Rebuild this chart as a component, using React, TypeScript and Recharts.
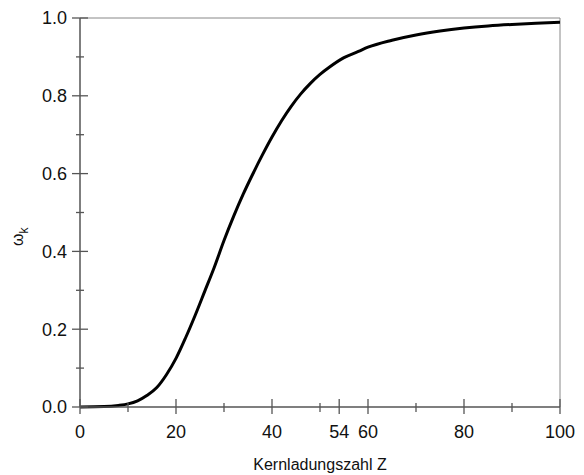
import * as React from 'react';
import { LineChart, Line, XAxis, YAxis, ReferenceLine } from 'recharts';

// Kernladungszahl Z
const zValues = [0, 5, 8, 10, 12, 14, 16, 18, 20, 22, 24, 26, 28, 30, 32, 34, 36, 38, 40, 42, 44, 46, 48, 50, 52, 55, 58, 60, 65, 70, 75, 80, 85, 90, 95, 100];
// Fluoreszenzausbeute omega_k
const omegaK = [0, 0.001, 0.004, 0.008, 0.016, 0.03, 0.05, 0.083, 0.125, 0.178, 0.236, 0.298, 0.36, 0.428, 0.49, 0.547, 0.599, 0.648, 0.694, 0.736, 0.773, 0.805, 0.832, 0.855, 0.874, 0.898, 0.914, 0.925, 0.943, 0.9565, 0.9665, 0.974, 0.9795, 0.9835, 0.9865, 0.989];

const xTicks = [0, 10, 20, 30, 40, 50, 54, 60, 70, 80, 90, 100];
const xMajor = [0, 20, 40, 54, 60, 80, 100];
const yTicks = [0, 0.1, 0.2, 0.3, 0.4, 0.5, 0.6, 0.7, 0.8, 0.9, 1.0];
const yMajor = [0, 0.2, 0.4, 0.6, 0.8, 1.0];

const data = zValues.map((z, i) => ({ z, w: omegaK[i] }));

const AXIS = '#555';
const FONT = 'Liberation Sans, Arial, sans-serif';

function XTick(props: any) {
  const { x, y, payload } = props;
  const major = xMajor.includes(payload.value);
  return (
    <g>
      <line x1={x} x2={x} y1={major ? y - 8 : y - 4} y2={major ? y + 7 : y + 5} stroke={AXIS} strokeWidth={1.3} />
      {major && (
        <text x={x} y={y + 31} textAnchor="middle" fontSize={18} fontFamily={FONT} fill="#111">
          {payload.value}
        </text>
      )}
    </g>
  );
}

function YTick(props: any) {
  const { x, y, payload } = props;
  const major = yMajor.some((v) => Math.abs(v - payload.value) < 1e-6);
  return (
    <g>
      <line x1={major ? x - 8 : x - 4} x2={major ? x + 8 : x + 4} y1={y} y2={y} stroke={AXIS} strokeWidth={1.3} />
      {major && (
        <text x={x - 13} y={y} dy="0.36em" textAnchor="end" fontSize={18} fontFamily={FONT} fill="#111">
          {payload.value.toFixed(1)}
        </text>
      )}
    </g>
  );
}

export default function App() {
  return (
    <div style={{ position: 'absolute', left: 0, top: 0, background: '#fff' }}>
      <LineChart width={584} height={475} data={data} margin={{ top: 18, right: 24, bottom: 38, left: 20 }}>
        <ReferenceLine y={1} stroke="#888" strokeWidth={1} />
        <ReferenceLine x={100} stroke="#888" strokeWidth={1} />
        <XAxis
          dataKey="z"
          type="number"
          domain={[0, 100]}
          ticks={xTicks}
          interval={0}
          height={30}
          tickSize={0}
          tickMargin={0}
          tickLine={false}
          axisLine={{ stroke: AXIS, strokeWidth: 1.5 }}
          tick={<XTick />}
          label={{
            content: () => (
              <text x={320} y={470} textAnchor="middle" fontSize={16} fontFamily={FONT} fill="#111">
                Kernladungszahl Z
              </text>
            ),
          }}
        />
        <YAxis
          type="number"
          domain={[0, 1]}
          ticks={yTicks}
          interval={0}
          width={60}
          tickSize={0}
          tickMargin={0}
          tickLine={false}
          axisLine={{ stroke: AXIS, strokeWidth: 1.5 }}
          tick={<YTick />}
          label={{
            content: () => (
              <text transform="rotate(-90 23 246)" x={23} y={246} textAnchor="start" fontSize={16} fontFamily={FONT} fill="#111">
                <tspan>ω</tspan>
                <tspan dy={5} fontSize={12}>k</tspan>
              </text>
            ),
          }}
        />
        <Line
          type="monotone"
          dataKey="w"
          stroke="#000"
          strokeWidth={3}
          dot={false}
          activeDot={false}
          isAnimationActive={false}
        />
      </LineChart>
    </div>
  );
}
